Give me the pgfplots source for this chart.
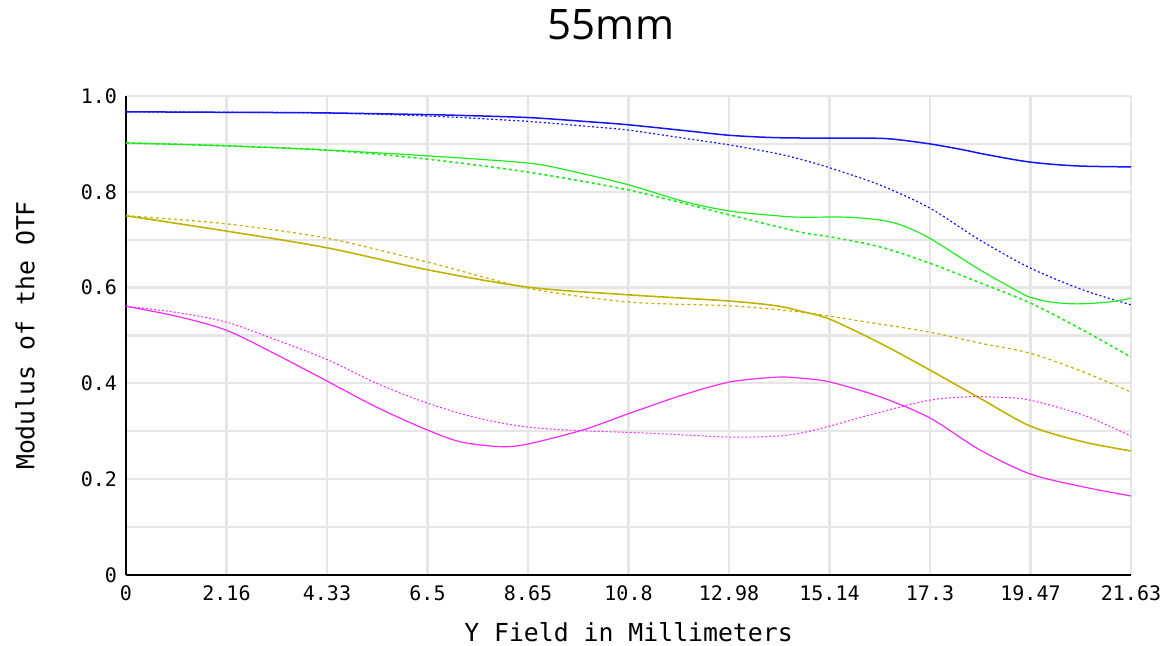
\documentclass[border=0pt]{standalone}
\usepackage{pgfplots}
\pgfplotsset{compat=1.18}
\usepackage{fontspec}
\setmainfont{Open Sans}
\newfontfamily\monof{DejaVu Sans Mono}
\definecolor{cblue}{RGB}{20,20,245}
\definecolor{cgreen}{RGB}{30,235,30}
\definecolor{colive}{RGB}{190,180,0}
\definecolor{cmag}{RGB}{245,40,245}
\definecolor{cgrid}{RGB}{230,230,230}
\begin{document}
\begin{tikzpicture}
\useasboundingbox (-63pt,-35.5pt) rectangle (518pt,287.5pt);
\begin{axis}[
  at={(0,0)}, anchor=south west,
  scale only axis, width=502.5pt, height=239.5pt,
  xmin=0, xmax=21.63, ymin=0, ymax=1,
  axis x line*=bottom, axis y line*=left,
  axis line style={black, line width=1pt, -},
  xtick={0,2.163,4.326,6.489,8.652,10.815,12.978,15.141,17.304,19.467,21.63},
  xticklabels={0,2.16,4.33,6.5,8.65,10.8,12.98,15.14,17.3,19.47,21.63},
  ytick={0,0.2,0.4,0.6,0.8,1.0},
  yticklabels={0,0.2,0.4,0.6,0.8,1.0},
  minor ytick={0.1,0.3,0.5,0.7,0.9},
  grid=both,
  major grid style={cgrid, line width=1.1pt},
  minor grid style={cgrid, line width=1.1pt},
  major tick length=0pt, minor tick length=0pt,
  tick label style={font=\monof\fontsize{10}{11}\selectfont, text=black},
  xticklabel style={yshift=-2pt},
  yticklabel style={xshift=-1pt},
  clip=false,
  every axis plot/.append style={smooth, tension=0.5},
]
\addplot[cblue, line width=0.75pt] coordinates {(0,0.967)(2,0.966)(4,0.965)(6,0.962)(7,0.960)(8.65,0.955)(10,0.946)(10.8,0.94)(12,0.928)(12.98,0.918)(14,0.913)(15.14,0.912)(16,0.912)(16.5,0.91)(17.3,0.90)(18,0.888)(18.5,0.878)(19.46,0.862)(20.47,0.854)(21.63,0.852)};
\addplot[cblue, line width=0.6pt, dash pattern=on 1pt off 1.2pt] coordinates {(0,0.967)(2,0.966)(4,0.965)(5,0.963)(6,0.96)(7,0.956)(8.65,0.947)(10,0.936)(10.8,0.929)(12,0.912)(12.98,0.898)(14,0.88)(14.51,0.868)(15.15,0.85)(16.23,0.814)(17.3,0.766)(18.38,0.699)(19.46,0.641)(20.6,0.595)(21.63,0.564)};
\addplot[cgreen, line width=0.6pt] coordinates {(0,0.902)(2.16,0.896)(4.33,0.887)(6.5,0.875)(8.65,0.86)(9.5,0.845)(10.8,0.815)(12,0.78)(12.98,0.76)(14,0.75)(14.51,0.747)(15.5,0.747)(16.23,0.741)(16.7,0.73)(17.3,0.703)(18.38,0.637)(19.24,0.59)(19.46,0.58)(19.89,0.57)(20.47,0.566)(21.18,0.57)(21.63,0.578)};
\addplot[cgreen, line width=0.8pt, dash pattern=on 1.5pt off 1.5pt] coordinates {(0,0.902)(2.16,0.896)(4.33,0.887)(6.5,0.868)(8.65,0.841)(10.8,0.804)(12.98,0.752)(14.51,0.716)(15.15,0.706)(16.23,0.685)(17.3,0.651)(18.38,0.61)(19.46,0.568)(20.6,0.511)(21.63,0.455)};
\addplot[colive, line width=0.8pt] coordinates {(0,0.75)(2.16,0.718)(4.33,0.683)(6.5,0.637)(8.65,0.601)(10.8,0.585)(12.98,0.572)(14,0.562)(14.51,0.551)(15.15,0.534)(16.23,0.484)(17.3,0.428)(18.38,0.369)(19.46,0.311)(20.6,0.278)(21.63,0.259)};
\addplot[colive, line width=0.6pt, dash pattern=on 1.5pt off 1.5pt] coordinates {(0,0.75)(2.16,0.733)(4.33,0.703)(6.5,0.653)(8.65,0.599)(10.8,0.57)(12.98,0.562)(14.51,0.549)(15.95,0.528)(17.3,0.507)(18.38,0.484)(19.46,0.463)(20.6,0.424)(21.63,0.382)};
\addplot[cmag, line width=0.6pt] coordinates {(0,0.561)(1.1,0.54)(2.16,0.511)(3.2,0.462)(4.326,0.405)(5.4,0.35)(6.479,0.303)(7.2,0.278)(8.05,0.268)(8.63,0.273)(9.84,0.303)(10.85,0.338)(11.99,0.376)(13.0,0.403)(14.01,0.413)(14.51,0.411)(15.15,0.403)(16.23,0.372)(17.3,0.328)(18.38,0.261)(19.46,0.211)(20.6,0.184)(21.63,0.165)};
\addplot[cmag, line width=0.5pt, dash pattern=on 1pt off 1pt] coordinates {(0,0.561)(1.1,0.548)(2.16,0.528)(3.2,0.492)(4.326,0.45)(5.4,0.4)(6.479,0.359)(7.555,0.328)(8.63,0.309)(9.84,0.301)(11.28,0.296)(13.0,0.288)(14.01,0.29)(14.51,0.296)(15.15,0.311)(16.23,0.34)(17.3,0.365)(18.1,0.372)(18.81,0.371)(19.46,0.365)(20.6,0.334)(21.63,0.29)};
\end{axis}
\node[font=\monof\fontsize{12.4}{14}\selectfont] at (251.25pt,-28.5pt) {Y Field in Millimeters};
\node[rotate=90, font=\monof\fontsize{12.4}{14}\selectfont] at (-50.5pt,119.75pt) {Modulus of the OTF};
\node[font=\fontsize{21}{24}\selectfont] at (242.5pt,275pt) {55mm};
\end{tikzpicture}
\end{document}
